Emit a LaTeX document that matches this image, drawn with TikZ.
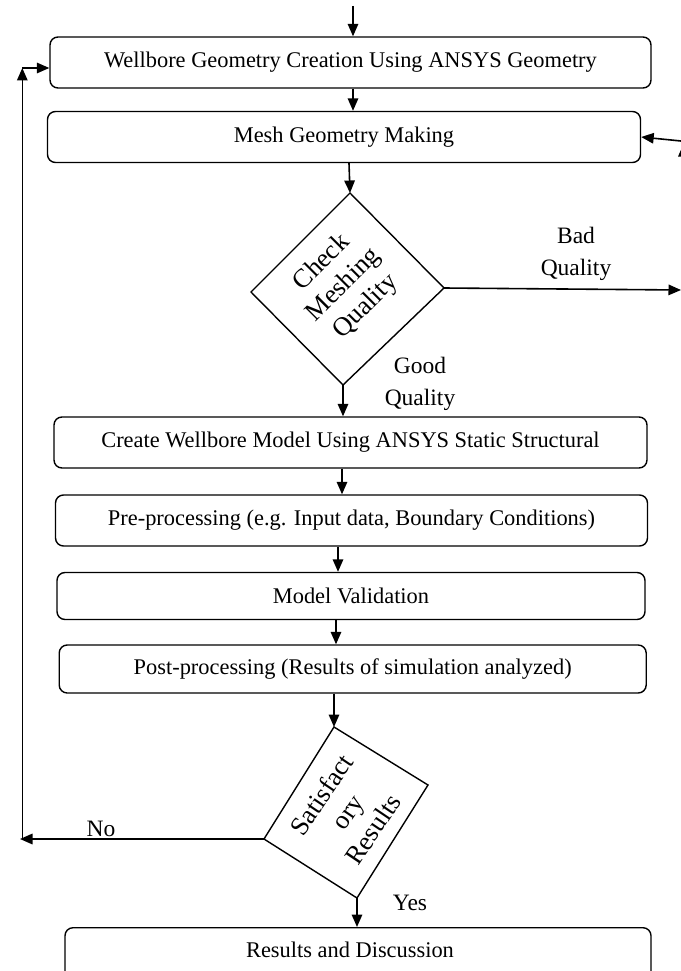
\documentclass[tikz,border=0pt]{standalone}
\usepackage{fontspec}
\setmainfont{Liberation Serif}
\usetikzlibrary{arrows.meta}
\begin{document}
\begin{tikzpicture}[x=1pt,y=-1pt,
  box/.style={draw, line width=1.4pt, rounded corners=8pt, inner sep=0pt,
    font=\fontsize{22.4}{26}\selectfont},
  arr/.style={-{Triangle[length=12.5pt,width=10.5pt]}, line width=1.6pt},
  ln/.style={line width=1.4pt},
  lbl/.style={font=\fontsize{23.5}{32}\selectfont, align=center, inner sep=0pt},
  dtxt/.style={font=\fontsize{26.5}{31}\selectfont, align=center, inner sep=0pt}]
\useasboundingbox (0,0) rectangle (680,971);

% boxes
\node[box, minimum width=601pt, minimum height=51pt] (b1) at (350.5,62.5) {Wellbore Geometry Creation Using ANSYS Geometry};
\node[box, minimum width=593pt, minimum height=51pt] (b2) at (344,137) {Mesh Geometry Making};
\node[box, minimum width=593pt, minimum height=51pt] (b3) at (350.5,442.5) {Create Wellbore Model Using ANSYS Static Structural};
\node[box, minimum width=592pt, minimum height=51pt] (b4) at (351.5,520.5) {Pre-processing (e.g. Input data, Boundary Conditions)};
\node[box, minimum width=588pt, minimum height=47pt] (b5) at (351,596) {Model Validation};
\node[box, minimum width=587pt, minimum height=48pt] (b6) at (352.7,669) {Post-processing (Results of simulation analyzed)};
\node[box, minimum width=586pt, minimum height=60pt, anchor=north] (b7) at (358,927) {};
\node[font=\fontsize{22.4}{26}\selectfont, inner sep=0pt] (b7t) at (350,950) {Results and Discussion};

% diamond 1
\coordinate (d1t) at (350,193);
\coordinate (d1r) at (444,288);
\coordinate (d1b) at (343,385);
\coordinate (d1l) at (251,292);
\draw[ln] (d1t) -- (d1r) -- (d1b) -- (d1l) -- cycle;
\node[dtxt, rotate=45] (d1x) at (344,285) {Check\\Meshing\\Quality};

% diamond 2
\coordinate (d2t) at (334,727);
\coordinate (d2r) at (428,785);
\coordinate (d2b) at (357,898);
\coordinate (d2l) at (264,839);
\draw[ln] (d2t) -- (d2r) -- (d2b) -- (d2l) -- cycle;
\node[dtxt, rotate=56] (d2x) at (347,812) {Satisfact\\ory\\Results};

% helper coordinates
\coordinate (top) at (353,6);
\coordinate (c12) at (353,0);
\coordinate (c2d) at (349,0);
\coordinate (c34) at (342,0);
\coordinate (c45) at (338,0);
\coordinate (c56) at (336,0);
\coordinate (c6d) at (334,0);
\coordinate (badend) at (681,290);
\coordinate (rin) at (681,141);
\coordinate (noend) at (20,839);
\coordinate (lx) at (22.3,0);
\coordinate (upend) at (22.3,68);
\coordinate (rstub) at (683.5,200);
\coordinate (rstubend) at (683.5,144);

% connectors
\draw[arr] (top) -- (top |- b1.north);
\draw[arr] (b1.south -| c12) -- (b2.north -| c12);
\draw[arr] (b2.south -| c2d) -- (d1t);
\draw[arr] (d1b) -- (d1b |- b3.north);
\draw[arr] (b3.south -| c34) -- (b4.north -| c34);
\draw[arr] (b4.south -| c45) -- (b5.north -| c45);
\draw[arr] (b5.south -| c56) -- (b6.north -| c56);
\draw[arr] (b6.south -| c6d) -- (d2t);
\draw[arr] (d2b) -- (d2b |- b7.north);
\draw[arr] (d1r) -- (badend);
\draw[arr] (rin) -- (b2.east);
\draw[arr] (rstub) -- (rstubend);
\draw[arr] (d2l) -- (noend);
\draw[arr] (noend -| lx) -- (upend);
\draw[arr] (upend) -- (upend -| b1.west);

% labels
\node[lbl] (bad) at (576,254) {Bad\\Quality};
\node[lbl] (good) at (420,384) {Good\\Quality};
\node[lbl] (no) at (101,829) {No};
\node[lbl] (yes) at (410,903) {Yes};
\end{tikzpicture}
\end{document}
